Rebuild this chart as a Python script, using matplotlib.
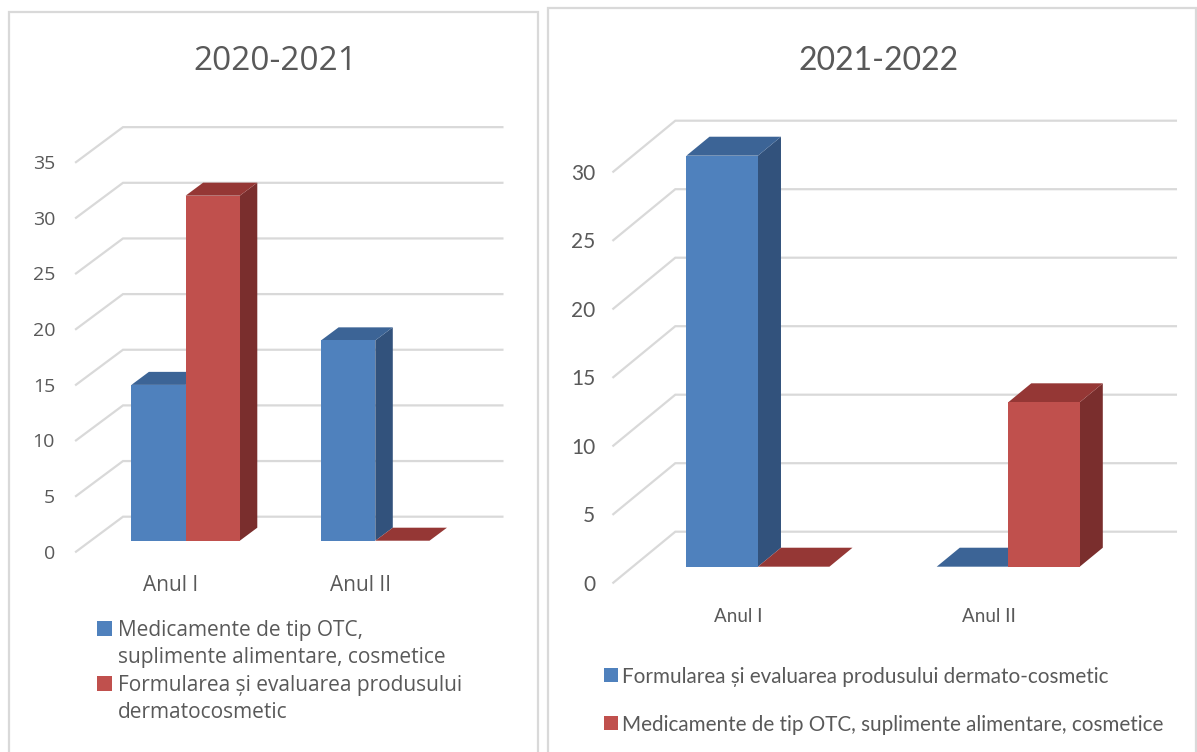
import matplotlib
matplotlib.use("Agg")
import matplotlib.pyplot as plt
from matplotlib.patches import Polygon, Rectangle

# --- data ----------------------------------------------------------------
categories = ["Anul I", "Anul II"]

# panel 1: 2020-2021
title_1 = "2020-2021"
series_1 = ["Medicamente de tip OTC,\nsuplimente alimentare, cosmetice",
            "Formularea și evaluarea produsului\ndermatocosmetic"]
values_1 = [[14, 18],   # blue
            [31, 0]]    # red
ticks_1 = [0, 5, 10, 15, 20, 25, 30, 35]

# panel 2: 2021-2022
title_2 = "2021-2022"
series_2 = ["Formularea și evaluarea produsului dermato-cosmetic",
            "Medicamente de tip OTC, suplimente alimentare, cosmetice"]
values_2 = [[30, 0],    # blue
            [0, 12]]    # red
ticks_2 = [0, 5, 10, 15, 20, 25, 30]

# --- style ---------------------------------------------------------------
W, H, DPI = 1197, 752, 100
TEXT = "#595959"
GRID = "#D9D9D9"
BORDER = "#D9D9D9"
FRONT = ["#4F81BD", "#C0504D"]
TOP = ["#3C6496", "#953735"]
SIDE = ["#32527C", "#7A2E2D"]
GAP = 1.5          # excel gap width (150 %)
D0, D1 = 0.314, 0.686   # bar depth inside the floor


def fig_xy(x, y):
    return x / W, 1 - y / H


def draw_panel(fig, cfg, values, ticks, title, series):
    ox, oy = cfg["origin"]
    pcat, pval = cfg["px_cat"], cfg["px_val"]
    dpx, dpy = cfg["depth"]
    vmax = ticks[-1]
    ncat = len(categories)
    ddx, ddy = dpx / pcat, dpy / pval

    left, right = ox, ox + ncat * pcat + dpx
    bottom, top = oy, oy - vmax * pval - dpy
    ax = fig.add_axes([left / W, 1 - bottom / H, (right - left) / W, (bottom - top) / H])
    ax.set_xlim(0, ncat + ddx)
    ax.set_ylim(0, vmax + ddy)
    ax.axis("off")
    ax.set_zorder(2)

    font = cfg["font"]

    # walls: side diagonal + back line for every tick
    for v in ticks:
        ax.plot([0, ddx, ncat + ddx], [v, v + ddy, v + ddy], color=GRID, lw=1.6,
                solid_joinstyle="miter", clip_on=False, zorder=1)
        ax.text(-cfg["tick_pad"] / pcat, v, str(v), ha="right", va="center_baseline",
                color=TEXT, fontsize=cfg["tick_fs"], family=font)

    # bars, left to right so the next bar hides the previous side face
    w = 1 / (len(values) + GAP)
    z = 3
    for i, cat in enumerate(categories):
        for s, vals in enumerate(values):
            val = vals[i]
            xl = i + 0.5 - w * len(values) / 2 + s * w
            x0f, x1f = xl + D0 * ddx, xl + w + D0 * ddx
            x0b, x1b = xl + D1 * ddx, xl + w + D1 * ddx
            yf, yb = D0 * ddy, D1 * ddy
            if val > 0:
                ax.add_patch(Polygon([(x1f, yf), (x1b, yb), (x1b, val + yb), (x1f, val + yf)],
                                     closed=True, fc=SIDE[s], ec="none", zorder=z))
                ax.add_patch(Rectangle((x0f, yf), w, val, fc=FRONT[s], ec="none", zorder=z + 0.2))
            ax.add_patch(Polygon([(x0f, val + yf), (x1f, val + yf), (x1b, val + yb), (x0b, val + yb)],
                                 closed=True, fc=TOP[s], ec="none", zorder=z + 0.1))
            z += 1
        ax.text(i + 0.5, -cfg["cat_off"] / pval, cat, ha="center", va="center_baseline",
                color=TEXT, fontsize=cfg["cat_fs"], family=font)

    tx, ty = fig_xy(*cfg["title_xy"])
    fig.text(tx, ty, title, ha="center", va="center_baseline", color=TEXT,
             fontsize=cfg["title_fs"], family=font)

    # legend
    lx, sq = cfg["leg_x"], cfg["leg_sq"]
    for s, label in enumerate(series):
        for k, line in enumerate(label.split("\n")):
            y = cfg["leg_y"][s] + k * cfg["leg_line"]
            if k == 0:
                bx, by = fig_xy(lx, y + sq / 2)
                fig.patches.append(Rectangle((bx, by), sq / W, sq / H, transform=fig.transFigure,
                                             fc=FRONT[s], ec="none", zorder=1))
            txx, txy = fig_xy(lx + sq + cfg["leg_gap"], y)
            fig.text(txx, txy, line, ha="left", va="center_baseline", color=TEXT,
                     fontsize=cfg["leg_fs"], family=font)
    return ax


fig = plt.figure(figsize=(W / DPI, H / DPI), dpi=DPI)
fig.patch.set_facecolor("white")

# panel frames
for x0, y0, x1, y1 in [(9, 12, 538, 780), (548, 8, 1196, 780)]:
    bx, by = fig_xy(x0, y1)
    fig.patches.append(Rectangle((bx, by), (x1 - x0) / W, (y1 - y0) / H, transform=fig.transFigure,
                                 fc="white", ec=BORDER, lw=1.6, zorder=-1))

cfg_1 = dict(origin=(76, 551.7), px_cat=189.7, px_val=11.13, depth=(47, 35),
             font="Open Sans", tick_fs=14, tick_pad=21, cat_fs=15, cat_off=31,
             title_fs=24, title_xy=(275, 58),
             leg_x=97, leg_sq=15, leg_gap=6, leg_y=[628, 683], leg_line=27.5, leg_fs=15)
cfg_2 = dict(origin=(613.3, 582.7), px_cat=250.3, px_val=13.7, depth=(62, 51),
             font="Lato", tick_fs=15, tick_pad=18, cat_fs=13.5, cat_off=32,
             title_fs=23, title_xy=(879, 58),
             leg_x=604, leg_sq=14, leg_gap=4, leg_y=[675, 723], leg_line=0, leg_fs=14.9)

draw_panel(fig, cfg_1, values_1, ticks_1, title_1, series_1)
draw_panel(fig, cfg_2, values_2, ticks_2, title_2, series_2)

fig.savefig("out.png", dpi=DPI, facecolor="white")
